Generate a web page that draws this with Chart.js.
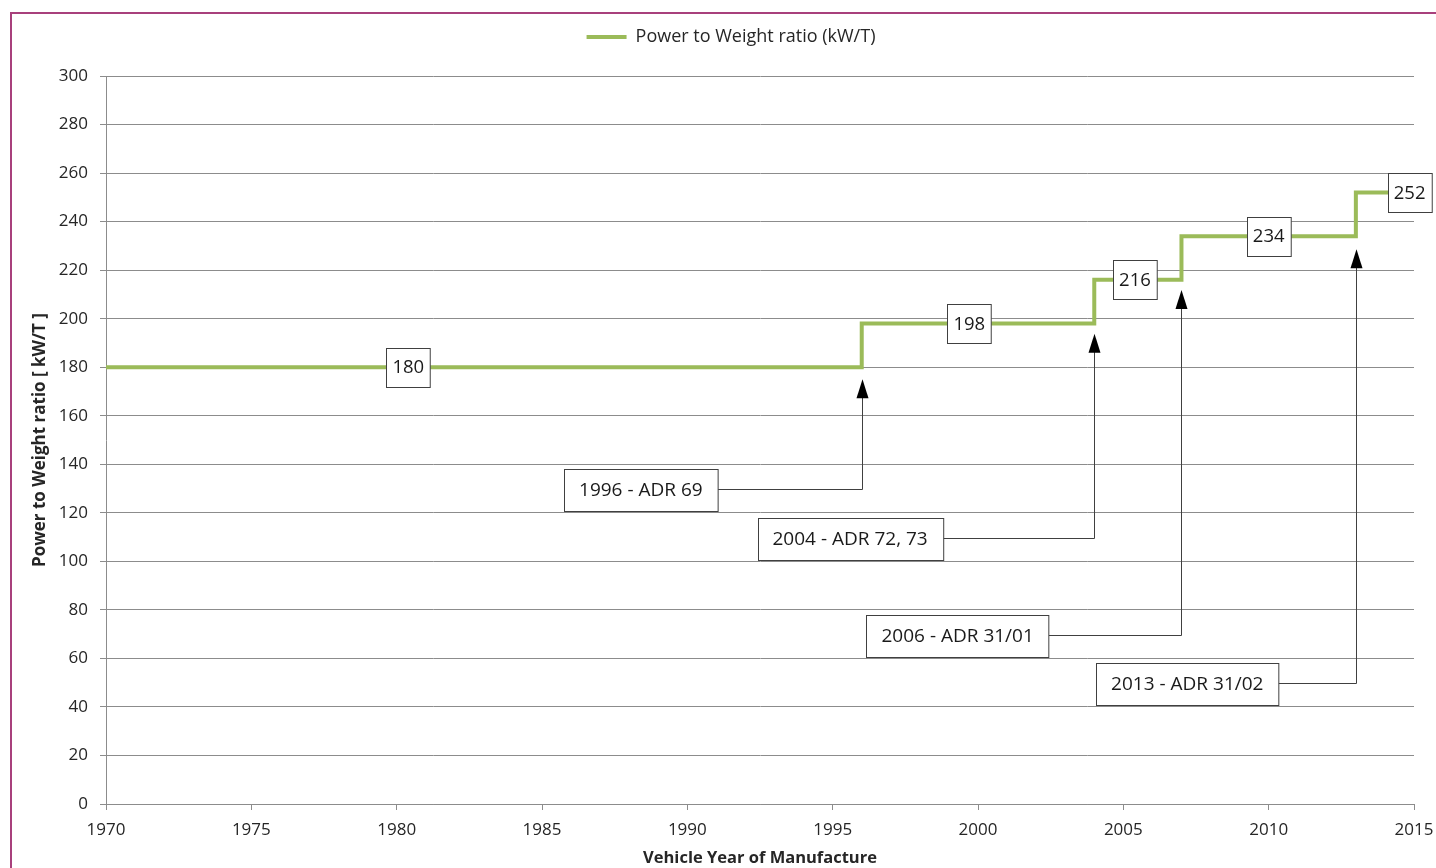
<!DOCTYPE html>
<html>
<head>
<meta charset="utf-8">
<script src="https://cdn.jsdelivr.net/npm/chart.js@4.4.0/dist/chart.umd.min.js"></script>
<style>
html, body { margin: 0; padding: 0; background: #fff; overflow: hidden; }
#wrap { position: absolute; left: 0; top: 0; width: 1436px; height: 868px; }
#frame { position: absolute; left: 10px; top: 12px; width: 1500px; height: 900px;
  border-left: 2px solid #a8407c; border-top: 2px solid #a8407c; pointer-events: none; }
</style>
</head>
<body>
<div id="wrap"><canvas id="myChart" width="1436" height="868"></canvas></div>
<div id="frame"></div>
<script>
// step series
const stepYears = [1970, 1996, 2004, 2007, 2013, 2015];
const stepValues = [180, 198, 216, 234, 252, 252];
// value boxes on the line
const valueLabels = [180, 198, 216, 234, 252];
const valueLabelYears = [1980.4, 1999.7, 2005.4, 2010, 2014.85];
// ADR notes
const noteTexts = ['1996 - ADR 69', '2004 - ADR 72, 73', '2006 - ADR 31/01', '2013 - ADR 31/02'];
const noteBoxYears = [1988.4, 1995.6, 1999.3, 2007.2];
const noteBoxValues = [130, 109.6, 69.6, 49.9];
const noteArrowYears = [1996, 2004, 2007, 2013];
const noteArrowTips = [175, 193.8, 211.8, 228.6];

const FONT = '"Open Sans", sans-serif';
const GREEN = '#9bbb59';
const GRID = '#8c8c8c';

const noteLayer = {
  id: 'noteLayer',
  beforeInit(chart) {
    const lg = chart.legend;
    const fit = lg.fit;
    lg.fit = function () { fit.call(this); this.height = 76; };
    const draw = lg.draw;
    // legend sits a bit right of centre in the original
    lg.draw = function () {
      this.ctx.save();
      this.ctx.translate(24, 0);
      draw.call(this);
      this.ctx.restore();
    };
  },
  afterDatasetsDraw(chart) {
    const ctx = chart.ctx;
    const x = chart.scales.x, y = chart.scales.y;
    ctx.save();
    ctx.font = '19px ' + FONT;
    ctx.textAlign = 'center';
    ctx.textBaseline = 'middle';
    // notes with arrows
    for (let i = 0; i < noteTexts.length; i++) {
      const bx = x.getPixelForValue(noteBoxYears[i]);
      const by = Math.round(y.getPixelForValue(noteBoxValues[i])) + 0.5;
      const ax = Math.round(x.getPixelForValue(noteArrowYears[i])) + 0.5;
      const tip = y.getPixelForValue(noteArrowTips[i]);
      const w = ctx.measureText(noteTexts[i]).width + 30;
      const h = 42;
      ctx.strokeStyle = '#404040';
      ctx.lineWidth = 1;
      ctx.beginPath();
      ctx.moveTo(bx + w / 2, by);
      ctx.lineTo(ax, by);
      ctx.lineTo(ax, tip + 16);
      ctx.stroke();
      ctx.fillStyle = '#000';
      ctx.beginPath();
      ctx.moveTo(ax, tip);
      ctx.lineTo(ax - 6, tip + 19);
      ctx.lineTo(ax + 6, tip + 19);
      ctx.closePath();
      ctx.fill();
      const left = Math.round(bx - w / 2) + 0.5, top = Math.round(by - h / 2);
      ctx.fillStyle = '#fff';
      ctx.fillRect(left, top, w, h);
      ctx.strokeStyle = '#404040';
      ctx.strokeRect(left, top + 0.5, w, h);
      ctx.fillStyle = '#1a1a1a';
      ctx.fillText(noteTexts[i], bx, by + 1);
    }
    // value boxes
    ctx.font = '18.5px ' + FONT;
    for (let i = 0; i < valueLabels.length; i++) {
      const cx = x.getPixelForValue(valueLabelYears[i]);
      const cy = y.getPixelForValue(valueLabels[i]);
      const w = ctx.measureText(String(valueLabels[i])).width + 12;
      const h = 39;
      const left = Math.round(cx - w / 2) + 0.5, top = Math.round(cy - h / 2) + 0.5;
      ctx.fillStyle = '#fff';
      ctx.fillRect(left, top, w, h);
      ctx.strokeStyle = '#404040';
      ctx.strokeRect(left, top, w, h);
      ctx.fillStyle = '#1a1a1a';
      ctx.fillText(String(valueLabels[i]), cx, cy + 1);
    }
    ctx.restore();
  }
};

const ctx = document.getElementById('myChart');
new Chart(ctx, {
  type: 'line',
  data: {
    datasets: [{
      label: 'Power to Weight ratio (kW/T)',
      data: stepYears.map((yr, i) => ({ x: yr, y: stepValues[i] })),
      stepped: 'before',
      borderColor: GREEN,
      backgroundColor: GREEN,
      borderWidth: 4,
      pointRadius: 0,
      fill: false
    }]
  },
  options: {
    responsive: false,
    animation: false,
    layout: { padding: { left: 0, right: 22, top: 0, bottom: 0 } },
    plugins: {
      tooltip: { enabled: false },
      legend: {
        position: 'top',
        labels: {
          usePointStyle: true,
          pointStyle: 'line',
          pointStyleWidth: 40,
          padding: 28,
          color: '#262626',
          font: { family: FONT, size: 18 }
        }
      }
    },
    scales: {
      x: {
        type: 'linear',
        min: 1970,
        max: 2015,
        afterFit(s) { s.height = 64; s.paddingLeft = 0; s.paddingRight = 0; },
        ticks: { stepSize: 5, padding: 10, color: '#262626', font: { family: FONT, size: 17 },
          callback: v => String(v) },
        grid: { drawOnChartArea: false, drawTicks: true, tickLength: 6, color: GRID },
        border: { color: GRID },
        title: { display: true, text: 'Vehicle Year of Manufacture', color: '#262626',
          font: { family: FONT, size: 16.5, weight: 'bold' }, padding: { top: 0, bottom: 0 } }
      },
      y: {
        min: 0,
        max: 300,
        afterFit(s) { s.width = 106; },
        ticks: { stepSize: 20, padding: 12, color: '#262626', font: { family: FONT, size: 17 } },
        grid: { color: GRID, tickLength: 6 },
        border: { color: GRID },
        title: { display: true, text: 'Power to Weight ratio [ kW/T ]', color: '#262626',
          font: { family: FONT, size: 17, weight: 'bold' }, padding: { top: 30, bottom: 0 } }
      }
    }
  },
  plugins: [noteLayer]
});
</script>
</body>
</html>
